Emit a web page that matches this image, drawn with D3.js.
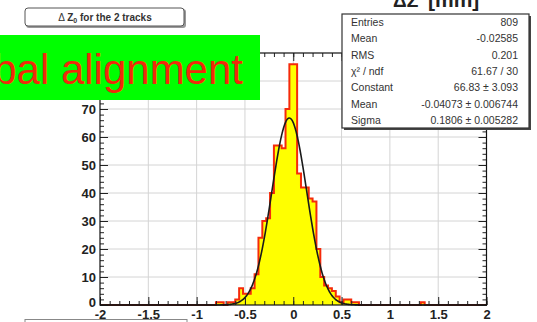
<!DOCTYPE html>
<html><head><meta charset="utf-8">
<script src="https://cdn.jsdelivr.net/npm/d3@7"></script>
<style>
body{margin:0;background:#fff;}
svg{display:block;font-family:"Liberation Sans",Arial,Helvetica,sans-serif;}
</style>
</head><body>
<svg id="c" width="537" height="322"></svg>
<script>
// ---- data ----
const binLowEdges = [-0.80,-0.76,-0.68,-0.64,-0.60,-0.56,-0.52,-0.48,-0.44,-0.40,-0.36,-0.32,-0.28,-0.24,-0.20,-0.16,-0.12,-0.08,-0.04,0.00,0.04,0.08,0.12,0.16,0.20,0.24,0.28,0.32,0.36,0.40,0.44,0.48,0.52,0.56,0.60,0.64,1.32];
const binCounts   = [1,1,1,1,2,6,4,4,6,11,24,30,31,40,57,57,56,70,86,86,47,42,42,38,37,20,10,7,6,5,3,1,2,2,1,1,1];
const binWidth = 0.04;
const xRange = [-2, 2];
const yRange = [0, 90];
const xTickValues = [-2,-1.5,-1,-0.5,0,0.5,1,1.5,2];
const yTickValues = [0,10,20,30,40,50,60,70,80];
const yLabelValues = [0,10,20,30,40,50,60,70];
const fitConstant = 66.83, fitMean = -0.04073, fitSigma = 0.1806;
const statLabels = ["Entries","Mean","RMS","\u03C7\u00B2 / ndf","Constant","Mean","Sigma"];
const statValues = ["809","-0.02585","0.201","61.67 / 30","66.83 \u00B1 3.093","-0.04073 \u00B1 0.006744","0.1806 \u00B1 0.005282"];
const titleText = "for the 2 tracks";
const bannerText = "Global alignment";

// ---- layout ----
const svg = d3.select("#c");
const L = 100, R = 486.5, T = 53, B = 305;
const x = d3.scaleLinear(xRange, [L, R]);
const y = d3.scaleLinear(yRange, [B, T]);

svg.append("rect").attr("width",537).attr("height",322).attr("fill","#fff");

// grid
const grid = svg.append("g").attr("stroke","#d4d4d4").attr("stroke-width",1);
xTickValues.filter(v=>v>xRange[0]&&v<xRange[1]).forEach(v=>{
  grid.append("line").attr("x1",x(v)).attr("x2",x(v)).attr("y1",T).attr("y2",B);
});
yTickValues.filter(v=>v>yRange[0]).forEach(v=>{
  grid.append("line").attr("x1",L).attr("x2",R).attr("y1",y(v)).attr("y2",y(v));
});

// histogram (dense bins)
const nBins = Math.round((xRange[1]-xRange[0])/binWidth);
const dense = new Array(nBins).fill(0);
binLowEdges.forEach((e,i)=>{ dense[Math.round((e-xRange[0])/binWidth)] = binCounts[i]; });
const pts = [[xRange[0],0]];
dense.forEach((c,i)=>{ const a = xRange[0]+i*binWidth; pts.push([a,c]); pts.push([a+binWidth,c]); });
pts.push([xRange[1],0]);
const line = d3.line().x(d=>x(d[0])).y(d=>y(d[1]));
svg.append("path").attr("d", line(pts)+"Z").attr("fill","#ffff00").attr("stroke","none");
svg.append("path").attr("d", line(pts)).attr("fill","none").attr("stroke","#f52a0a").attr("stroke-width",2).attr("stroke-linejoin","miter");

// fit function
const fx = d3.range(0, 401).map(i => xRange[0] + i*(xRange[1]-xRange[0])/400);
const fitPts = fx.map(v => [v, fitConstant*Math.exp(-0.5*Math.pow((v-fitMean)/fitSigma,2))]);
svg.append("path").attr("d", d3.line().x(d=>x(d[0])).y(d=>y(d[1])).curve(d3.curveBasis)(fitPts))
  .attr("fill","none").attr("stroke","#1a1a1a").attr("stroke-width",1.6);

// axes
function styleAxis(g){ g.select(".domain").remove(); g.selectAll("line").attr("stroke","#222"); }
const xMinor = d3.range(-20,21).map(i=>i/10);
const yMinor = d3.range(0,46).map(i=>i*2);
svg.append("g").attr("transform",`translate(0,${B})`)
  .call(d3.axisBottom(x).tickValues(xMinor).tickSize(-4).tickFormat("")).call(styleAxis);
svg.append("g").attr("transform",`translate(0,${T})`)
  .call(d3.axisTop(x).tickValues(xMinor).tickSize(-4).tickFormat("")).call(styleAxis);
svg.append("g").attr("transform",`translate(0,${T})`)
  .call(d3.axisTop(x).tickValues(xTickValues).tickSize(-8).tickFormat("")).call(styleAxis);
const xa = svg.append("g").attr("transform",`translate(0,${B})`)
  .call(d3.axisBottom(x).tickValues(xTickValues).tickSize(-8).tickPadding(5).tickFormat(d=>String(d))).call(styleAxis);
xa.selectAll("text").attr("font-size",13).attr("font-weight","bold").attr("fill","#222").attr("font-family","Liberation Sans, Arial, sans-serif");

svg.append("g").attr("transform",`translate(${L},0)`)
  .call(d3.axisLeft(y).tickValues(yMinor).tickSize(-4).tickFormat("")).call(styleAxis);
svg.append("g").attr("transform",`translate(${R},0)`)
  .call(d3.axisRight(y).tickValues(yMinor).tickSize(-4).tickFormat("")).call(styleAxis);
svg.append("g").attr("transform",`translate(${R},0)`)
  .call(d3.axisRight(y).tickValues(yTickValues).tickSize(-8).tickFormat("")).call(styleAxis);
svg.append("g").attr("transform",`translate(${L},0)`)
  .call(d3.axisLeft(y).tickValues(yTickValues).tickSize(-8).tickFormat("")).call(styleAxis);
const ya = svg.append("g").attr("transform",`translate(${L},0)`)
  .call(d3.axisLeft(y).tickValues(yLabelValues).tickSize(0).tickPadding(4).tickFormat(d=>String(d))).call(styleAxis);
ya.selectAll("text").attr("font-size",13).attr("font-weight","bold").attr("fill","#222").attr("font-family","Liberation Sans, Arial, sans-serif");
ya.selectAll("text").filter(d=>d===0).attr("dy","0.1em");

// frame
svg.append("rect").attr("x",L).attr("y",T).attr("width",R-L).attr("height",B-T)
  .attr("fill","none").attr("stroke","#111").attr("stroke-width",1.2);

// top-right axis title (partly cut at the top edge)
svg.append("text").attr("x",393).attr("y",7).attr("font-size",19).attr("font-weight","bold").attr("fill","#222").text("\u0394Z");
svg.append("text").attr("x",428).attr("y",7).attr("font-size",21).attr("font-weight","bold").attr("fill","#222").text("[mm]");

// stats box
const sx = 342, sy = 14, sw = 187, sh = 114;
svg.append("rect").attr("x",sx+2).attr("y",sy+2).attr("width",sw).attr("height",sh).attr("fill","#444");
svg.append("rect").attr("x",sx).attr("y",sy).attr("width",sw).attr("height",sh).attr("fill","#fff").attr("stroke","#333").attr("stroke-width",1.2);
const rowH = sh/statLabels.length;
statLabels.forEach((lab,i)=>{
  const cy = sy + rowH*(i+0.5) + 4;
  svg.append("text").attr("x",sx+9).attr("y",cy).attr("font-size",10.5).attr("fill","#333").text(lab);
  svg.append("text").attr("x",sx+sw-11).attr("y",cy).attr("font-size",10.5).attr("fill","#333").attr("text-anchor","end").text(statValues[i]);
});

// title box
svg.append("rect").attr("x",26).attr("y",9).attr("width",160).attr("height",19).attr("rx",3).attr("fill","#999");
svg.append("rect").attr("x",25).attr("y",8).attr("width",159).attr("height",18).attr("rx",3).attr("fill","#fff").attr("stroke","#555").attr("stroke-width",1);
const tl = svg.append("text").attr("x",105).attr("y",21).attr("text-anchor","middle").attr("font-size",10).attr("font-weight","bold").attr("fill","#333");
tl.append("tspan").attr("font-weight","normal").text("\u0394 ");
tl.append("tspan").text("Z");
tl.append("tspan").attr("font-size",7).attr("dy",2).text("0");
tl.append("tspan").attr("dy",-2).text(" " + titleText);

// green banner
svg.append("rect").attr("x",0).attr("y",35).attr("width",260).attr("height",65).attr("fill","#00ff00");
svg.append("text").attr("x",243).attr("y",84).attr("text-anchor","end").attr("font-size",42).attr("fill","#f02a0a").text(bannerText);

// bottom-left box (cut off)
svg.append("rect").attr("x",25).attr("y",319.5).attr("width",162).attr("height",20).attr("fill","#fff").attr("stroke","#888");
</script>
</body></html>
